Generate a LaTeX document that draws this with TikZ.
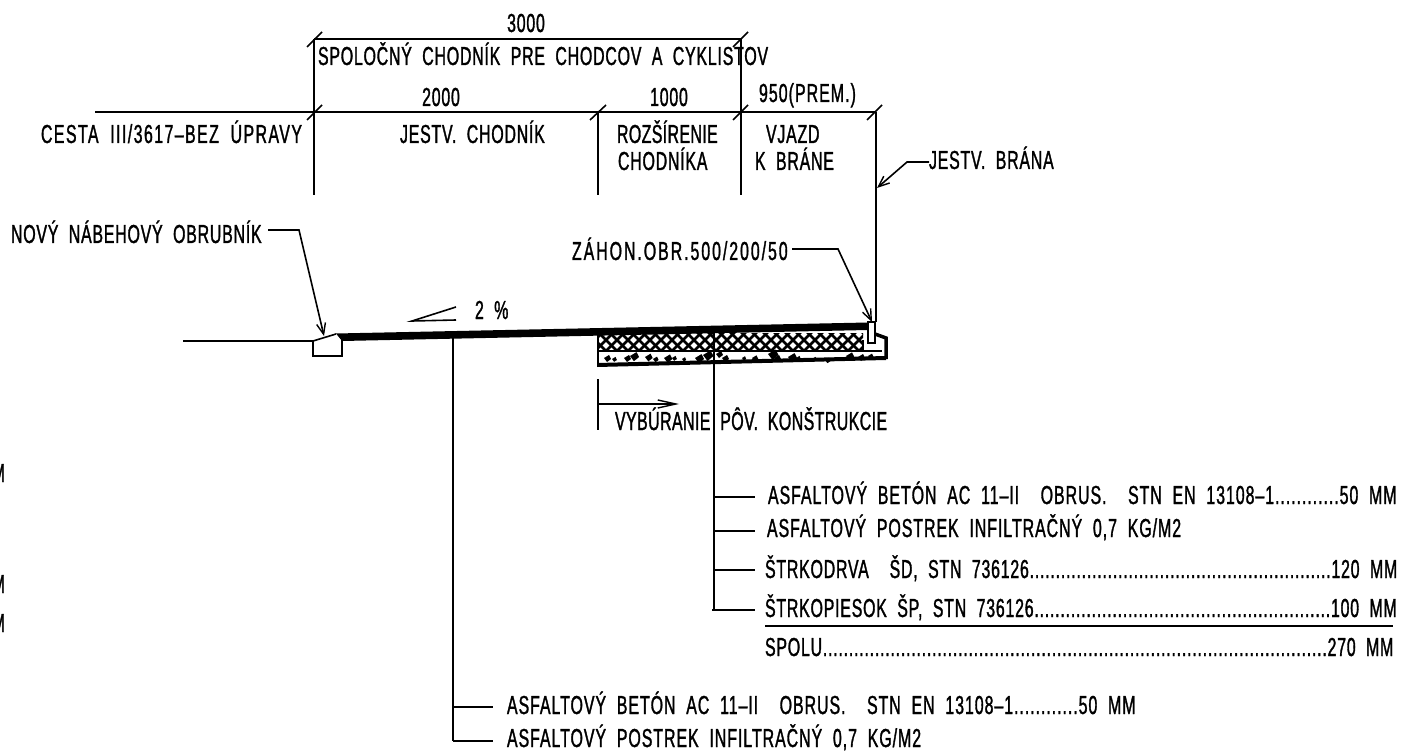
\documentclass[tikz,border=0pt]{standalone}
\usepackage{fontspec}
\setmainfont[FakeStretch=0.612,LetterSpace=3,WordSpace=2,FakeBold=1.2]{Liberation Sans}
\usetikzlibrary{arrows.meta}
\tikzset{
  lbl/.style = {anchor=base west, inner sep=0pt, outer sep=0pt, font=\fontsize{26}{26}\selectfont},
  lblc/.style = {lbl, anchor=base},
  spaced/.style = {font=\fontsize{26}{26}\selectfont\addfontfeature{LetterSpace=#1}},
  line/.style = {line width=1.6pt},
  tick/.style = {line width=1.6pt},
  leader/.style = {line width=1.6pt, -{Straight Barb[length=11pt,width=9pt,line width=1.4pt]}},
  longleader/.style = {line width=1.6pt, -{Straight Barb[length=18pt,width=8pt,line width=1.4pt]}}
}
\begin{document}
\begin{tikzpicture}[x=1pt,y=-1pt]
	\useasboundingbox (0,0) rectangle (1402,751);
	\def \dimtop{39}
	\def \dimlow{112}
	\def \dimend{195}

	% Dimension lines
	\draw[line] (314,\dimtop) -- (741,\dimtop);
	\draw[line] (95,\dimlow) -- (876,\dimlow);

	% Extension lines
	\draw[line] (314,\dimtop) -- (314,\dimend);
	\draw[line] (598,\dimlow) -- (598,\dimend);
	\draw[line] (741,\dimtop) -- (741,\dimend);
	\draw[line] (876,\dimlow) -- (876,322);

	% Ticks
	\draw[tick] (307,47) -- (322,32);
	\draw[tick] (733,47) -- (748,32);
	\draw[tick] (307,120) -- (322,105);
	\draw[tick] (590,120) -- (606,105);
	\draw[tick] (733,120) -- (748,105);
	\draw[tick] (867,120) -- (882,105);

	% Dimensions
	\node[lblc] (total) at (526,32) {3000};
	\node[lbl] (common) at (318,65) {SPOLOČNÝ CHODNÍK PRE CHODCOV A CYKLISTOV};
	\node[lblc] (walk) at (441,106) {2000};
	\node[lblc] (widen) at (669,106) {1000};
	\node[lbl, spaced=4] (drive) at (759,102) {950(PREM.)};

	% Strip names
	\node[lbl, spaced=5.5] (road) at (41,143) {CESTA III/3617–BEZ ÚPRAVY};
	\node[lbl] (oldwalk) at (400,143) {JESTV. CHODNÍK};
	\node[lbl, spaced=1.5] (ext1) at (617,143) {ROZŠÍRENIE};
	\node[lbl] (ext2) at (618,170) {CHODNÍKA};
	\node[lbl] (gate1) at (766,143) {VJAZD};
	\node[lbl] (gate2) at (755,170) {K BRÁNE};

	% Gate
	\node[lbl] (gate) at (929,169) {JESTV. BRÁNA};
	\coordinate (gatebend) at (907,162);
	\coordinate (gatetip) at (877,188);
	\draw[leader] (gate.west |- gatebend) -- (gatebend) -- (gatetip);

	% Kerbs
	\node[lbl] (kerb) at (11,243) {NOVÝ NÁBEHOVÝ OBRUBNÍK};
	\coordinate (kerbbend) at (299,230);
	\coordinate (kerbstart) at (268,230);
	\coordinate (kerbtip) at (324,336);
	\draw[leader] (kerbstart) -- (kerbbend) -- (kerbtip);
	\node[lbl, spaced=7.5] (edge) at (572,260) {ZÁHON.OBR.500/200/50};
	\coordinate (edgestart) at (792,249);
	\coordinate (edgebend) at (838,249);
	\coordinate (edgetip) at (872,322);
	\draw[leader] (edgestart) -- (edgebend) -- (edgetip);

	% Slope
	\draw[line] (456,307) -- (412,321) -- (456,320);
	\node[lbl] (slope) at (475,319) {2 \%};

	% Road surface
	\draw[line] (183,341) -- (313,341);
	\draw[line] (313,341) -- (313,356) -- (342,356) -- (342,334);
	\draw[line] (313,341) -- (336,334);
	\fill (336,333.5) -- (868,322.5) -- (868,330) -- (342,341) -- cycle;

	% Old layers
	\begin{scope}
		\clip (598,333) rectangle (863,350);
		\foreach \i in {0,11,...,300} {
			\draw[line width=2.6pt] (580+\i,355) -- (580+\i+30,325);
			\draw[line width=2.6pt] (580+\i,325) -- (580+\i+30,355);
		}
	\end{scope}
	\draw[line width=2pt] (598,351) -- (863,351);
	\draw[line] (598,333) -- (598,364);
	\foreach \x/\y/\s in {604/358/1,612/359/.7,624/358/1,630/356/1.3,645/357/1.1,653/359/.8,664/358/1.2,672/358/.7,682/359/.6,695/358/1.3,703/355/1.5,716/354/1,722/358/1,742/358/.6,752/358/.9,768/354/1.5,774/358/1,788/357/1.3,796/358/.7,812/359/.7,825/360/.8,846/356/1.2,858/357/1,868/356/.8} {
		\fill (\x,\y) -- (\x+5*\s,\y-3*\s) -- (\x+7*\s,\y+1) -- (\x+3*\s,\y+4*\s) -- cycle;
	}
	\fill (597,363) -- (886,356) -- (886,360) -- (597,367) -- cycle;
	\draw[line] (868,322) -- (875,322) -- (875,343) -- (868,343) -- cycle;
	\draw[line width=3.5pt] (875,334) -- (886,338) -- (886,359);
	\draw[line] (863,340) -- (863,351) -- (882,351);

	% Demolition
	\draw[line] (598,379) -- (598,430);
	\coordinate (cutstart) at (598,404);
	\coordinate (cutend) at (679,404);
	\draw[longleader] (cutstart) -- (cutend);
	\node[lbl, spaced=1.7] (cut) at (615,430) {VYBÚRANIE PÔV. KONŠTRUKCIE};

	% Build-up right
	\coordinate (rtop) at (714,333);
	\coordinate (rA) at (714,497);
	\coordinate (rB) at (714,531);
	\coordinate (rC) at (714,570);
	\coordinate (rD) at (714,610);
	\draw[line] (rtop) -- (rD);
	\node[lbl, spaced=3.7] (layA) at (768,504) {ASFALTOVÝ BETÓN AC 11–II\ \ OBRUS.\ \ STN EN 13108–1............50 MM};
	\node[lbl, spaced=3.7] (layB) at (767,537) {ASFALTOVÝ POSTREK INFILTRAČNÝ 0,7 KG/M2};
	\node[lbl] (layC) at (765,578) {ŠTRKODRVA\ \ ŠD, STN 736126..........................................................120 MM};
	\node[lbl] (layD) at (765,617) {ŠTRKOPIESOK ŠP, STN 736126.........................................................100 MM};
	\node[lbl] (sum) at (765,656) {SPOLU.................................................................................................270 MM};
	\draw[line] (rA) -- (755,497);
	\draw[line] (rB) -- (755,531);
	\draw[line] (rC) -- (755,570);
	\draw[line] (712,610) -- (755,610);
	\draw[line] (765,626) -- (1393,626);

	% Build-up left
	\coordinate (ltop) at (453,337);
	\coordinate (lA) at (453,707);
	\coordinate (lB) at (453,741);
	\draw[line] (ltop) -- (lB);
	\node[lbl, spaced=3.7] (lowA) at (507,714) {ASFALTOVÝ BETÓN AC 11–II\ \ OBRUS.\ \ STN EN 13108–1............50 MM};
	\node[lbl, spaced=3.7] (lowB) at (507,747) {ASFALTOVÝ POSTREK INFILTRAČNÝ 0,7 KG/M2};
	\draw[line] (lA) -- (493,707);
	\draw[line] (lB) -- (493,741);

	% Cut off at the sheet edge
	\node[lbl, anchor=base east] (mA) at (5,482) {M};
	\node[lbl, anchor=base east] (mB) at (5,593) {M};
	\node[lbl, anchor=base east] (mC) at (5,632) {M};
\end{tikzpicture}
\end{document}
